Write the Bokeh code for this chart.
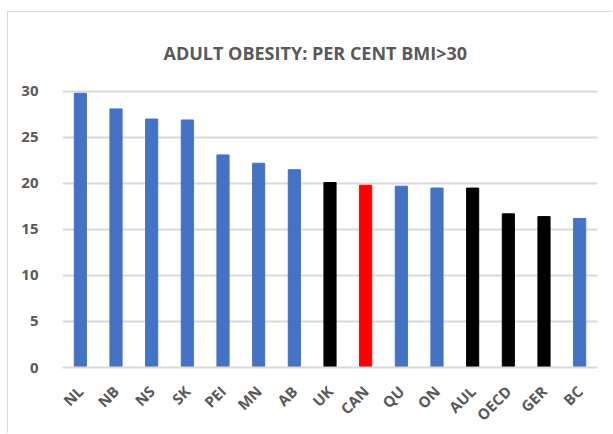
import math
from bokeh.plotting import figure
from bokeh.models import ColumnDataSource, Range1d, FixedTicker
from bokeh.embed import file_html
from bokeh.resources import INLINE

# Adult obesity (% with BMI > 30) by province / country
regions = ["NL", "NB", "NS", "SK", "PEI", "MN", "AB", "UK", "CAN",
           "QU", "ON", "AUL", "OECD", "GER", "BC"]
obesity_pct = [29.8, 28.1, 27.0, 26.9, 23.1, 22.2, 21.5, 20.1, 19.8,
               19.7, 19.5, 19.5, 16.7, 16.4, 16.2]
# province = blue, national comparison = black, Canada = red
bar_group = ["prov", "prov", "prov", "prov", "prov", "prov", "prov", "intl", "canada",
             "prov", "prov", "intl", "intl", "intl", "prov"]
y_ticks = [0, 5, 10, 15, 20, 25, 30]

group_colors = {"prov": "#4472C4", "intl": "#000000", "canada": "#FF0000"}

source = ColumnDataSource(dict(
    region=regions,
    value=obesity_pct,
    color=[group_colors[g] for g in bar_group],
))

FONT = "Open Sans"
GREY = "#595959"

p = figure(
    x_range=regions,
    y_range=Range1d(0, 30.32),
    width=605, height=422,
    output_backend="svg",
    toolbar_location=None,
    min_border_left=54, min_border_right=16,
    min_border_top=76, min_border_bottom=66,
    title="ADULT OBESITY: PER CENT BMI>30",
)
# chart area border (left and top edges visible in the window)
p.styles = {
    "margin-left": "7px",
    "margin-top": "11px",
    "border-left": "1.5px solid #d9d9d9",
    "border-top": "1.5px solid #d9d9d9",
}

p.vbar(x="region", top="value", width=0.34, color="color", source=source)

# title
p.title.text_font = FONT
p.title.text_font_size = "18px"
p.title.text_font_style = "bold"
p.title.text_color = GREY
p.title.align = "left"
p.title.offset = 101
p.title.standoff = 48

# frame / background
p.outline_line_color = None
p.background_fill_color = "white"
p.border_fill_color = "white"

# grid
p.xgrid.grid_line_color = None
p.ygrid.grid_line_color = "#d9d9d9"
p.ygrid.grid_line_width = 2
p.yaxis.ticker = FixedTicker(ticks=y_ticks)

# y axis
p.yaxis.axis_line_color = None
p.yaxis.major_tick_line_color = None
p.yaxis.minor_tick_line_color = None
p.yaxis.major_label_text_font = FONT
p.yaxis.major_label_text_font_size = "15px"
p.yaxis.major_label_text_font_style = "bold"
p.yaxis.major_label_text_color = GREY
p.yaxis.major_label_standoff = 18

# x axis
p.xaxis.axis_line_color = "#d9d9d9"
p.xaxis.axis_line_width = 2
p.xaxis.major_tick_line_color = None
p.xaxis.minor_tick_line_color = None
p.xaxis.major_label_orientation = math.pi / 4
p.xaxis.major_label_text_font = FONT
p.xaxis.major_label_text_font_size = "15px"
p.xaxis.major_label_text_font_style = "bold"
p.xaxis.major_label_text_color = GREY
p.xaxis.major_label_standoff = 15

open("out.html", "w").write(file_html(p, INLINE))
